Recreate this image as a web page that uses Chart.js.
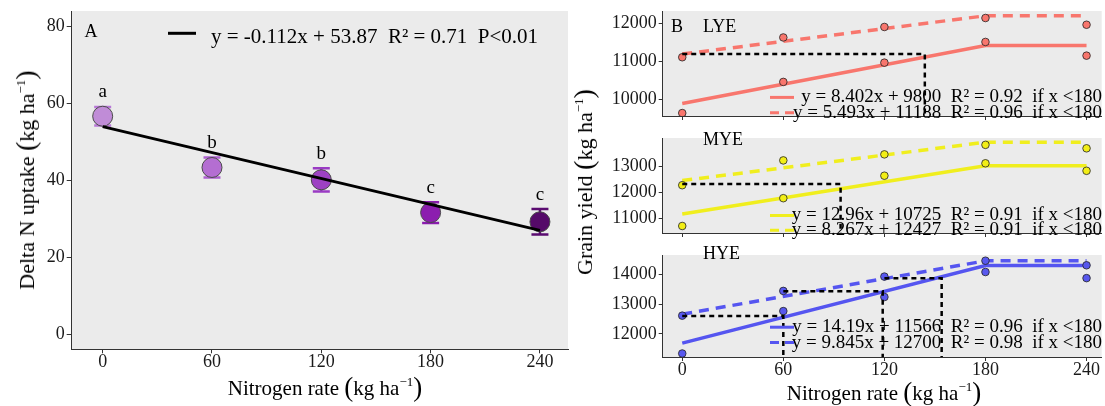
<!DOCTYPE html>
<html>
<head>
<meta charset="utf-8">
<script src="https://cdn.jsdelivr.net/npm/chart.js@4.4.1/dist/chart.umd.min.js"></script>
<style>
html,body{margin:0;padding:0;background:#fff;}
#wrap{position:relative;width:1105px;height:406px;overflow:hidden;background:#fff;font-family:"Liberation Serif","Times New Roman",serif;color:#000;}
#wrap canvas{position:absolute;}
.ttl{position:absolute;white-space:nowrap;font-size:21px;line-height:1;transform:translate(-50%,-50%);}
.rot{transform:translate(-50%,-50%) rotate(-90deg);font-size:22px;}
.par{font-size:27px;position:relative;top:1px;}
.rot .par{font-size:28px;}
.ttl sup{font-size:13px;vertical-align:0;position:relative;top:-9px;}
</style>
</head>
<body>
<div id="wrap">
  <canvas id="cA" width="575" height="406" style="left:0;top:0"></canvas>
  <canvas id="cL" width="530" height="127" style="left:575px;top:0"></canvas>
  <canvas id="cM" width="530" height="117" style="left:575px;top:127px"></canvas>
  <canvas id="cH" width="530" height="162" style="left:575px;top:244px"></canvas>
  <div class="ttl rot" style="left:25px;top:180px">Delta N uptake <span class="par">(</span>kg ha<sup>−1</sup><span class="par">)</span></div>
  <div class="ttl" style="left:325px;top:386px">Nitrogen rate <span class="par">(</span>kg ha<sup>−1</sup><span class="par">)</span></div>
  <div class="ttl rot" style="left:583px;top:182px">Grain yield <span class="par">(</span>kg ha<sup>−1</sup><span class="par">)</span></div>
  <div class="ttl" style="left:884px;top:391px">Nitrogen rate <span class="par">(</span>kg ha<sup>−1</sup><span class="par">)</span></div>
</div>
<script>
// ---------- data ----------
const nRates = [0, 60, 120, 180, 240];
const xTicks = [0, 60, 120, 180, 240];

// Panel A
const deltaN = [56.6, 43.3, 40.1, 31.6, 29.2];
const deltaNsd = [2.4, 2.6, 3.0, 2.7, 3.3];
const sigLetters = ['a', 'b', 'b', 'c', 'c'];
const fitAx = [0, 240];
const fitAy = [53.9, 27.0];
const yTicksA = [0, 20, 40, 60, 80];
const eqA = 'y = -0.112x + 53.87  R² = 0.71  P<0.01';

// Panel B
const fitBx = [0, 180, 240];
const lyeHigh = [11107, 11624, 11898, 12132, 11956];
const lyeLow  = [9650, 10463, 10966, 11507, 11149];
const lyeSolid = [9900, 11415, 11415];
const lyeDash  = [11190, 12190, 12190];
const lyeGuides = [[0, 144, 11190]];
const lyeTicks = [10000, 11000, 12000];
const lyeEq = ['y = 8.402x + 9800  R² = 0.92  if x <180', 'y = 5.493x + 11188  R² = 0.96  if x <180'];

const myeHigh = [12275, 13220, 13450, 13813, 13681];
const myeLow  = [10720, 11780, 12637, 13110, 12824];
const myeSolid = [11180, 13020, 13020];
const myeDash  = [12450, 13912, 13912];
const myeGuides = [[0, 94, 12320]];
const myeTicks = [11000, 12000, 13000];
const myeEq = ['y = 12.96x + 10725  R² = 0.91  if x <180', 'y = 8.267x + 12427  R² = 0.91  if x <180'];

const hyeHigh = [12612, 13439, 13918, 14449, 14296];
const hyeLow  = [11347, 12765, 13235, 14071, 13867];
const hyeSolid = [11694, 14285, 14285];
const hyeDash  = [12660, 14445, 14445];
const hyeGuides = [[0, 60, 12600], [60, 119, 13430], [120, 154, 13860]];
const hyeTicks = [12000, 13000, 14000];
const hyeEq = ['y = 14.19x + 11566  R² = 0.96  if x <180', 'y = 9.845x + 12700  R² = 0.98  if x <180'];

// ---------- style ----------
const FONT = '"Liberation Serif", "Times New Roman", serif';
Chart.defaults.font.family = FONT;
Chart.defaults.animation = false;
const ptColors = ['#c08cd7', '#b46ed2', '#9d42c3', '#8c1eaf', '#550a69'];
const errColors = ['#b877d6', '#ad5fcf', '#9a3bc4', '#8a1cae', '#5a0b70'];
const AXC = '#333333';
const TICKC = '#1a1a1a';
const plain = v => String(v);

const bgPlugin = {id:'bg', beforeDraw(c){const {ctx, chartArea:a}=c; ctx.save(); ctx.fillStyle='#ebebeb'; ctx.fillRect(a.left,a.top,a.right-a.left,a.bottom-a.top); ctx.restore();}};

function fixTicks(vals){ return s => { s.ticks = vals.map(v => ({value:v})); }; }

// ---------- Panel A ----------
const errPlugin = {id:'err', beforeDatasetsDraw(c){
  const {ctx, scales:{x,y}} = c;
  ctx.save(); ctx.lineWidth = 2.5; ctx.lineCap = 'butt';
  nRates.forEach((r,i)=>{
    const px = x.getPixelForValue(r), t = y.getPixelForValue(deltaN[i]+deltaNsd[i]), b = y.getPixelForValue(deltaN[i]-deltaNsd[i]);
    ctx.strokeStyle = errColors[i];
    ctx.beginPath();
    ctx.moveTo(px,t); ctx.lineTo(px,b);
    ctx.moveTo(px-8.5,t); ctx.lineTo(px+8.5,t);
    ctx.moveTo(px-8.5,b); ctx.lineTo(px+8.5,b);
    ctx.stroke();
  });
  ctx.restore();
}};
const annA = {id:'annA', afterDraw(c){
  const {ctx, scales:{x,y}} = c;
  ctx.save();
  ctx.fillStyle = '#000';
  ctx.font = '19px ' + FONT; ctx.textAlign = 'center'; ctx.textBaseline = 'alphabetic';
  nRates.forEach((r,i)=>{
    ctx.fillText(sigLetters[i], x.getPixelForValue(r), y.getPixelForValue(deltaN[i]+deltaNsd[i]) - 9.5);
  });
  ctx.textAlign = 'left';
  ctx.font = '18px ' + FONT;
  ctx.fillText('A', 84.6, 37);
  ctx.strokeStyle = '#000'; ctx.lineWidth = 3;
  ctx.beginPath(); ctx.moveTo(168, 33.3); ctx.lineTo(196, 33.3); ctx.stroke();
  ctx.font = '21px ' + FONT;
  ctx.fillText(eqA, 211, 43);
  ctx.restore();
}};

new Chart(document.getElementById('cA'), {
  type: 'scatter',
  data: {datasets: [
    {type:'line', data: fitAx.map((v,i)=>({x:v, y:fitAy[i]})), borderColor:'#000', borderWidth:2.8, pointRadius:0, tension:0, fill:false, order:0},
    {data: nRates.map((v,i)=>({x:v, y:deltaN[i]})), pointRadius:10, pointHoverRadius:10, backgroundColor: ptColors, borderColor:'#4a4a4a', borderWidth:1, order:1}
  ]},
  options: {
    responsive:false, animation:false,
    layout:{padding:{left:0, right:7, top:10, bottom:0}, autoPadding:false},
    plugins:{legend:{display:false}, tooltip:{enabled:false}},
    scales:{
      x:{type:'linear', min:-17, max:255.4, afterBuildTicks: fixTicks(xTicks), afterFit: s=>{s.height=56.7;},
         grid:{display:true, drawOnChartArea:false, drawTicks:true, tickLength:4, color:AXC},
         border:{display:true, color:AXC, width:1},
         ticks:{color:TICKC, padding:0, font:{size:18, lineHeight:1}, maxRotation:0, callback:plain}},
      y:{type:'linear', min:-3.87, max:83.9, afterBuildTicks: fixTicks(yTicksA), afterFit: s=>{s.width=71.7;},
         grid:{display:true, drawOnChartArea:false, drawTicks:true, tickLength:5, color:AXC},
         border:{display:true, color:AXC, width:1},
         ticks:{color:TICKC, padding:2, font:{size:18, lineHeight:1}, callback:plain}}
    }
  },
  plugins:[bgPlugin, errPlugin, annA]
});

// ---------- Panel B ----------
function panelB(id, o){
  const guidePlugin = {id:'guides'+id, afterDatasetsDraw(c){
    const {ctx, scales:{x,y}, chartArea:a} = c;
    ctx.save(); ctx.strokeStyle='#000'; ctx.lineWidth=2.5; ctx.setLineDash([5,4]);
    o.guides.forEach(g=>{
      const x0=x.getPixelForValue(g[0]), x1=x.getPixelForValue(g[1]), yy=y.getPixelForValue(g[2]);
      ctx.beginPath(); ctx.moveTo(x0,yy); ctx.lineTo(x1,yy); ctx.lineTo(x1,a.bottom); ctx.stroke();
    });
    ctx.restore();
  }};
  const annPlugin = {id:'ann'+id, afterDraw(c){
    const {ctx} = c;
    ctx.save();
    ctx.fillStyle='#000'; ctx.textBaseline='alphabetic'; ctx.textAlign='left';
    ctx.font = '18px ' + FONT;
    if (o.panelLetter) ctx.fillText(o.panelLetter, 670.9-575, o.labelY - o.top);
    ctx.fillText(o.label, 703 - 575, o.labelY - o.top);
    ctx.font = '19px ' + FONT; ctx.textBaseline='middle';
    o.eqs.forEach((t,i)=>{
      const yy = o.eqY[i] - o.top;
      ctx.textAlign='right';
      ctx.fillText(t, 1102-575, yy);
      ctx.strokeStyle = o.lineColor; ctx.lineWidth = 3;
      ctx.setLineDash(i===1 ? [9,6] : []);
      ctx.beginPath(); ctx.moveTo(770-575, yy); ctx.lineTo(794-575, yy); ctx.stroke();
    });
    ctx.restore();
  }};
  const pt = {pointRadius:3.8, pointHoverRadius:3.8, backgroundColor:o.ptColor, borderColor:'#222', borderWidth:0.8, order:1};
  return new Chart(document.getElementById(id), {
    type:'scatter',
    data:{datasets:[
      {type:'line', data: fitBx.map((v,i)=>({x:v,y:o.solid[i]})), borderColor:o.lineColor, borderWidth:3.5, pointRadius:0, tension:0, fill:false, order:3},
      {type:'line', data: fitBx.map((v,i)=>({x:v,y:o.dash[i]})), borderColor:o.lineColor, borderWidth:3.5, borderDash:[10,7], pointRadius:0, tension:0, fill:false, order:3},
      Object.assign({data: nRates.map((v,i)=>({x:v,y:o.high[i]}))}, pt),
      Object.assign({data: nRates.map((v,i)=>({x:v,y:o.low[i]}))}, pt)
    ]},
    options:{
      responsive:false, animation:false,
      layout:{padding:{left:0, right:3.3, top:o.padTop, bottom:0}, autoPadding:false},
      plugins:{legend:{display:false}, tooltip:{enabled:false}},
      scales:{
        x:{type:'linear', min:-11.6, max:249, afterBuildTicks: fixTicks(xTicks), afterFit: s=>{s.height=o.xH;},
           grid:{display:true, drawOnChartArea:false, drawTicks:true, tickLength:4, color:AXC},
           border:{display:true, color:AXC, width:1},
           ticks:{display:o.showX, color:TICKC, padding:0, font:{size:18, lineHeight:1}, maxRotation:0, callback:plain}},
        y:{type:'linear', min:o.ymin, max:o.ymax, afterBuildTicks: fixTicks(o.ticks), afterFit: s=>{s.width=87.7;},
           grid:{display:true, drawOnChartArea:false, drawTicks:true, tickLength:4, color:AXC},
           border:{display:true, color:AXC, width:1},
           ticks:{color:TICKC, padding:2, font:{size:18, lineHeight:1}, callback:plain}}
      }
    },
    plugins:[bgPlugin, guidePlugin, annPlugin]
  });
}

panelB('cL', {top:0, padTop:10.3, xH:4.3, showX:false, ymin:9573, ymax:12315, ticks:lyeTicks,
  high:lyeHigh, low:lyeLow, solid:lyeSolid, dash:lyeDash, guides:lyeGuides, eqs:lyeEq,
  ptColor:'#f8766d', lineColor:'#f8766d', panelLetter:'B', label:'LYE', labelY:31.5, eqY:[97.4,112.8]});
panelB('cM', {top:127, padTop:0, xH:4.7, showX:false, ymin:10453, ymax:14074, ticks:myeTicks,
  high:myeHigh, low:myeLow, solid:myeSolid, dash:myeDash, guides:myeGuides, eqs:myeEq,
  ptColor:'#f2ee16', lineColor:'#f0ee1e', label:'MYE', labelY:145, eqY:[215.5,230.2]});
panelB('cH', {top:244, padTop:0, xH:49, showX:true, ymin:11230, ymax:14640, ticks:hyeTicks,
  high:hyeHigh, low:hyeLow, solid:hyeSolid, dash:hyeDash, guides:hyeGuides, eqs:hyeEq,
  ptColor:'#5858ee', lineColor:'#5555f0', label:'HYE', labelY:259, eqY:[327.2,342.6]});
</script>
</body>
</html>
